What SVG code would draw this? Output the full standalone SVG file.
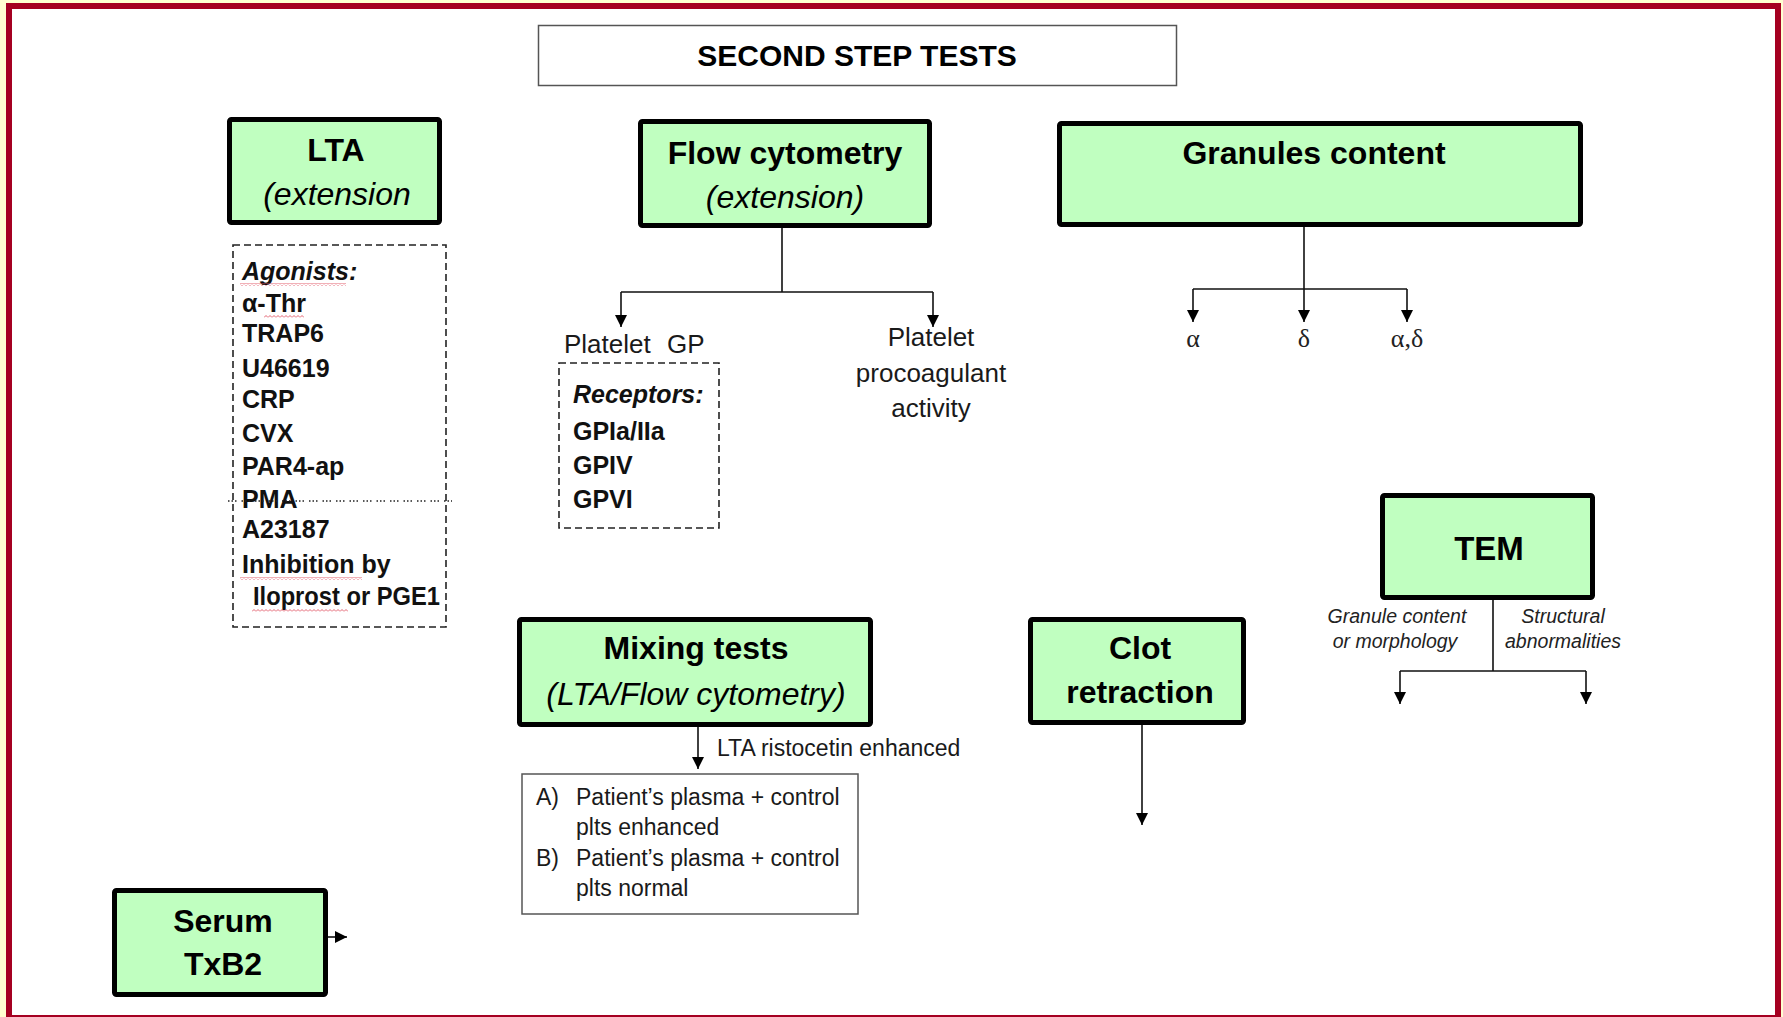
<svg xmlns="http://www.w3.org/2000/svg" width="1783" height="1017" viewBox="0 0 1783 1017">
<defs>
<style>
.node{fill:#c0ffc0;stroke:#000;stroke-width:5}
.b{font-family:"Liberation Sans",Arial,sans-serif;font-weight:bold;font-size:32px;fill:#000}
.bi{font-family:"Liberation Sans",Arial,sans-serif;font-style:italic;font-size:32px;fill:#000}
.c{text-anchor:middle}
.lst{font-family:"Liberation Sans",Arial,sans-serif;font-weight:bold;font-size:25px;fill:#111}
.reg{font-family:"Liberation Sans",Arial,sans-serif;font-size:26px;fill:#1a1a1a}
.sm{font-family:"Liberation Sans",Arial,sans-serif;font-size:23px;fill:#1a1a1a}
.it{font-family:"Liberation Sans",Arial,sans-serif;font-style:italic;font-size:19.5px;fill:#222}
.gr{font-family:"Liberation Serif","Times New Roman",serif;font-size:26px;fill:#222}
.dash{fill:none;stroke:#222;stroke-width:1.6;stroke-dasharray:7 4}
.thin{fill:#fff;stroke:#555;stroke-width:1.5}
.con{fill:none;stroke:#111;stroke-width:1.6}
.arr{fill:none;stroke:#111;stroke-width:1.6;marker-end:url(#ah)}
</style>
<marker id="ah" markerUnits="userSpaceOnUse" markerWidth="12" markerHeight="12" refX="12" refY="6" orient="auto">
<path d="M0,0 L12,6 L0,12 z" fill="#000"/>
</marker>
<pattern id="squig" width="4" height="3" patternUnits="userSpaceOnUse">
<path d="M0,2.5 L2,0.5 L4,2.5" fill="none" stroke="#e05060" stroke-width="0.9"/>
</pattern>
</defs>
<rect x="0" y="0" width="1783" height="1017" fill="#ffffd0"/>
<rect x="9" y="6" width="1769" height="1012" fill="#fff" stroke="#a50021" stroke-width="6"/>

<g id="title">
<rect x="538.5" y="25.5" width="638" height="60" class="thin"/>
<text x="857" y="66" class="b c" style="font-size:30px">SECOND STEP TESTS</text>
</g>

<g id="lta">
<rect x="229.5" y="119.5" width="210" height="103" rx="2" class="node"/>
<text x="336" y="161" class="b c">LTA</text>
<text x="337" y="205" class="bi c">(extension</text>
</g>

<g id="lta-agonists">
<rect x="233" y="245" width="213" height="382" class="dash"/>
<text x="242" y="280" class="lst" font-style="italic">Agonists:</text>
<text x="242" y="312" class="lst">α-Thr</text>
<text x="242" y="342" class="lst">TRAP6</text>
<text x="242" y="377" class="lst">U46619</text>
<text x="242" y="408" class="lst">CRP</text>
<text x="242" y="442" class="lst">CVX</text>
<text x="242" y="475" class="lst">PAR4-ap</text>
<text x="242" y="508" class="lst">PMA</text>
<text x="242" y="538" class="lst">A23187</text>
<text x="242" y="573" class="lst">Inhibition by</text>
<text x="253" y="605" class="lst" textLength="187" lengthAdjust="spacingAndGlyphs">Iloprost or PGE1</text>
<line x1="228" y1="501" x2="452" y2="501" stroke="#222" stroke-width="1.5" stroke-dasharray="1.5 2 1.5 2 1.5 5"/>
<rect x="240" y="283" width="106" height="3" fill="url(#squig)"/>
<rect x="264" y="315" width="40" height="3" fill="url(#squig)"/>
<rect x="240" y="577" width="122" height="3" fill="url(#squig)"/>
<rect x="252" y="609" width="96" height="3" fill="url(#squig)"/>
</g>

<g id="flow">
<rect x="640.5" y="121.5" width="289" height="104" rx="2" class="node"/>
<text x="785" y="164" class="b c">Flow cytometry</text>
<text x="785" y="208" class="bi c">(extension)</text>
</g>

<g id="platelet-gp">
<text x="564" y="353" class="reg">Platelet<tspan x="667">GP</tspan></text>
<rect x="559" y="363" width="160" height="165" class="dash"/>
<text x="573" y="403" class="lst" font-style="italic">Receptors:</text>
<text x="573" y="440" class="lst">GPIa/IIa</text>
<text x="573" y="474" class="lst">GPIV</text>
<text x="573" y="508" class="lst">GPVI</text>
</g>

<g id="procoagulant">
<text x="931" y="346" class="reg c">Platelet</text>
<text x="931" y="382" class="reg c">procoagulant</text>
<text x="931" y="417" class="reg c">activity</text>
</g>

<g id="granules">
<rect x="1059.5" y="123.5" width="521" height="101" rx="2" class="node"/>
<text x="1314" y="164" class="b c">Granules content</text>
</g>

<g id="granule-types">
<text x="1193" y="347" class="gr c">α</text>
<text x="1304" y="347" class="gr c">δ</text>
<text x="1407" y="347" class="gr c">α,δ</text>
</g>

<g id="tem">
<rect x="1382.5" y="495.5" width="210" height="102" rx="2" class="node"/>
<text x="1489" y="560" class="b c" style="font-size:33px">TEM</text>
</g>

<g id="tem-labels">
<text x="1397" y="623" class="it c">Granule content</text>
<text x="1395" y="648" class="it c">or morphology</text>
<text x="1563" y="623" class="it c">Structural</text>
<text x="1563" y="648" class="it c">abnormalities</text>
</g>

<g id="mixing">
<rect x="519.5" y="619.5" width="351" height="105" rx="2" class="node"/>
<text x="696" y="659" class="b c">Mixing tests</text>
<text x="696" y="705" class="bi c">(LTA/Flow cytometry)</text>
</g>

<g id="mixing-result">
<text x="717" y="756" class="sm">LTA ristocetin enhanced</text>
<rect x="522" y="774" width="336" height="140" class="thin"/>
<text x="536" y="805" class="sm">A)</text>
<text x="576" y="805" class="sm">Patient’s plasma + control</text>
<text x="576" y="835" class="sm">plts enhanced</text>
<text x="536" y="866" class="sm">B)</text>
<text x="576" y="866" class="sm">Patient’s plasma + control</text>
<text x="576" y="896" class="sm">plts normal</text>
</g>

<g id="clot">
<rect x="1030.5" y="619.5" width="213" height="103" rx="2" class="node"/>
<text x="1140" y="659" class="b c">Clot</text>
<text x="1140" y="703" class="b c">retraction</text>
</g>

<g id="serum">
<rect x="114.5" y="890.5" width="211" height="104" rx="2" class="node"/>
<text x="223" y="932" class="b c">Serum</text>
<text x="223" y="975" class="b c">TxB2</text>
</g>

<g id="connectors">
<path class="con" d="M782,228 V292 M621,292 H933"/>
<path class="arr" d="M621,292 V327"/>
<path class="arr" d="M933,292 V327"/>
<path class="arr" d="M1304,227 V322"/>
<path class="con" d="M1193,289 H1407"/>
<path class="arr" d="M1193,289 V322"/>
<path class="arr" d="M1407,289 V322"/>
<path class="con" d="M1493,600 V671 M1400,671 H1586"/>
<path class="arr" d="M1400,671 V704"/>
<path class="arr" d="M1586,671 V704"/>
<path class="arr" d="M698,727 V769"/>
<path class="arr" d="M1142,725 V825"/>
<path class="arr" d="M328,937 H347"/>
</g>
</svg>
